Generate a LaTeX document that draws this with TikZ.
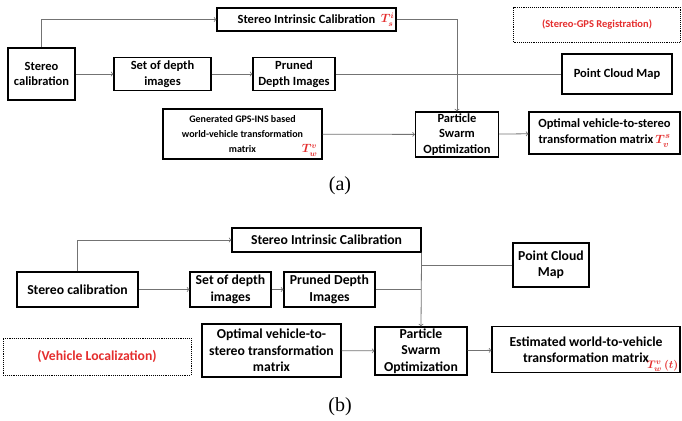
\documentclass[tikz,border=0pt]{standalone}
\usepackage{fontspec}
\usepackage{amsmath}
\setmainfont{Carlito}
\newfontfamily\capfont{Liberation Serif}
\definecolor{regred}{RGB}{228,45,45}
\tikzset{
  box/.style={draw, line width=1.1pt, align=center, inner sep=1pt},
  boxa/.style={box, font=\bfseries\fontsize{12.5}{15.5}\selectfont},
  boxb/.style={box, font=\bfseries\fontsize{13.7}{16.3}\selectfont},
  regbox/.style={draw, densely dotted, line width=0.9pt, text=regred},
  link/.style={draw=black!55, line width=0.8pt},
  tlabel/.style={text=regred, inner sep=0pt, font=\fontsize{12}{12}\selectfont},
  caption/.style={font=\capfont\fontsize{20}{20}\selectfont}
}
\newcommand{\tmat}[2]{\textcolor{regred}{$\boldsymbol{T_{#1}^{#2}}$}}

\begin{document}
\begin{tikzpicture}[x=1pt, y=-1pt]
  \useasboundingbox (0,0) rectangle (682,420);

  % (a) Stereo-GPS registration
  \node[boxa, minimum width=67pt, minimum height=52pt] (calA) at (41.5,74) {Stereo\\calibration};
  \node[boxa, minimum width=97pt, minimum height=33pt] (depthA) at (162.5,74) {Set of depth\\images};
  \node[boxa, minimum width=82pt, minimum height=33pt] (prunedA) at (294,74) {Pruned\\Depth Images};
  \node[boxa, minimum width=179pt, minimum height=23pt] (intrA) at (306.5,19.5) {Stereo Intrinsic Calibration};
  \node[tlabel, anchor=east] (tintrA) at ([xshift=-2pt]intrA.east) {\tmat{s}{i}};
  \node[boxa, minimum width=159pt, minimum height=50pt, font=\bfseries\fontsize{10}{15}\selectfont] (gpsA) at (242.5,134) {Generated GPS-INS based\\world-vehicle transformation\\matrix};
  \node[tlabel, anchor=south east] (tgpsA) at ([shift={(-5,-3)}]gpsA.south east) {\tmat{w}{v}};
  \node[boxa, minimum width=151pt, minimum height=42pt] (optA) at (604.5,133) {Optimal vehicle-to-stereo\\transformation matrix\,\tmat{v}{s}};
  \node[boxa, minimum width=83pt, minimum height=45pt] (psoA) at (457,134.5) {Particle\\Swarm\\Optimization};
  \node[boxa, minimum width=110pt, minimum height=40pt] (mapA) at (617,74) {Point Cloud Map};
  \node[regbox, minimum width=167pt, minimum height=35pt, font=\bfseries\fontsize{10.5}{14}\selectfont] (regA) at (597,24.5) {(Stereo-GPS Registration)};

  \draw[link, ->] (calA.north) |- (intrA.west);
  \draw[link, ->] (calA) -- (depthA);
  \draw[link, ->] (depthA) -- (prunedA);
  \draw[link] (prunedA.east) -- (mapA.west);
  \draw[link, ->] (intrA.east) -| (psoA.north);
  \draw[link, ->] (gpsA) -- (psoA);
  \draw[link, ->] (psoA) -- (optA);

  \node[caption] (capA) at (340,186) {(a)};

  % (b) vehicle localization
  \node[boxb, minimum width=189pt, minimum height=24pt] (intrB) at (326.5,240) {Stereo Intrinsic Calibration};
  \node[boxb, minimum width=121pt, minimum height=35pt] (calB) at (77.5,289.5) {Stereo calibration};
  \node[boxb, minimum width=81pt, minimum height=35pt] (depthB) at (230.5,289.5) {Set of depth\\images};
  \node[boxb, minimum width=91pt, minimum height=35pt] (prunedB) at (329.5,289.5) {Pruned Depth\\Images};
  \node[boxb, minimum width=76pt, minimum height=44pt] (mapB) at (551,265) {Point Cloud\\Map};
  \node[boxb, minimum width=92pt, minimum height=48pt] (psoB) at (421,351) {Particle\\Swarm\\Optimization};
  \node[boxb, minimum width=188pt, minimum height=46pt] (estB) at (586,349.5) {Estimated world-to-vehicle\\transformation matrix};
  \node[tlabel, anchor=south east, font=\fontsize{11}{11}\selectfont] (testB) at ([shift={(-2,-1)}]estB.south east) {\tmat{w}{v}\textcolor{regred}{$\boldsymbol{\,(t)}$}};
  \node[boxb, minimum width=139pt, minimum height=53pt] (optB) at (271.5,350.5) {Optimal vehicle-to-\\stereo transformation\\matrix};
  \node[regbox, minimum width=188pt, minimum height=37pt, font=\bfseries\fontsize{13.7}{14}\selectfont] (regB) at (97,356.5) {(Vehicle Localization)};

  \draw[link, ->] (calB.north) |- (intrB.west);
  \draw[link, ->] (calB) -- (depthB);
  \draw[link, ->] (depthB) -- (prunedB);
  \draw[link, ->] (intrB.south east) -- (psoB.north);
  \draw[link] (mapB.west) -- (mapB.west -| psoB.north);
  \draw[link] (prunedB.east) -- (prunedB.east -| psoB.north);
  \draw[link, ->] (optB) -- (psoB);
  \draw[link, ->] (psoB) -- (estB);

  \node[caption] (capB) at (340,407) {(b)};
\end{tikzpicture}
\end{document}
